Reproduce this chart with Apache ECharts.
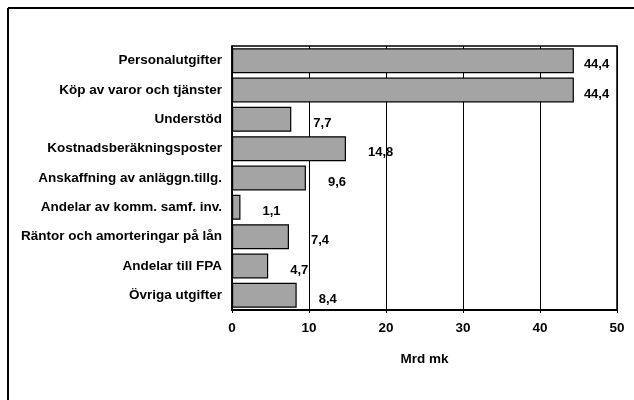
<!DOCTYPE html>
<html>
<head>
<meta charset="utf-8">
<script src="https://cdn.jsdelivr.net/npm/echarts@6/dist/echarts.min.js"></script>
<style>
html,body{margin:0;padding:0;background:#fff;}
#chart{width:634px;height:400px;}
</style>
</head>
<body>
<div id="chart"></div>
<script>
var categories = [
  "Personalutgifter",
  "Köp av varor och tjänster",
  "Understöd",
  "Kostnadsberäkningsposter",
  "Anskaffning av anläggn.tillg.",
  "Andelar av komm. samf. inv.",
  "Räntor och amorteringar på lån",
  "Andelar till FPA",
  "Övriga utgifter"
];
var values = [44.4, 44.4, 7.7, 14.8, 9.6, 1.1, 7.4, 4.7, 8.4];
var xTicks = [0, 10, 20, 30, 40, 50];
var xAxisTitle = "Mrd mk";

var FONT = '"Liberation Sans", Arial, sans-serif';

var chart = echarts.init(document.getElementById('chart'), null, {renderer: 'canvas'});
var barData = values.map(function (v) {
  return {value: v, label: {distance: v > 40 ? 10 : 22}};
});
chart.setOption({
  animation: false,
  backgroundColor: '#ffffff',
  graphic: [
    {type: 'line', shape: {x1: 8, y1: 8, x2: 634, y2: 8}, style: {stroke: '#000', lineWidth: 2}},
    {type: 'line', shape: {x1: 8, y1: 8, x2: 8, y2: 400}, style: {stroke: '#000', lineWidth: 2}}
  ],
  grid: {
    left: 232, right: 17, top: 46, bottom: 90,
    containLabel: false,
    outerBoundsMode: 'none',
    show: true, borderColor: '#000', borderWidth: 1.5, backgroundColor: 'transparent'
  },
  xAxis: {
    type: 'value',
    min: xTicks[0],
    max: xTicks[xTicks.length - 1],
    interval: 10,
    name: xAxisTitle,
    nameLocation: 'middle',
    nameGap: 42,
    nameTextStyle: {fontFamily: FONT, fontWeight: 'bold', fontSize: 13.5, color: '#000'},
    axisLine: {show: true, lineStyle: {color: '#000', width: 2}},
    axisTick: {show: true, length: 3, lineStyle: {color: '#000'}},
    axisLabel: {fontFamily: FONT, fontWeight: 'bold', fontSize: 13.5, color: '#000', margin: 11},
    splitLine: {show: true, lineStyle: {color: '#000', width: 1}}
  },
  yAxis: {
    type: 'category',
    data: categories,
    inverse: true,
    axisLine: {show: true, lineStyle: {color: '#000', width: 1.5}},
    axisTick: {show: false},
    axisLabel: {fontFamily: FONT, fontWeight: 'bold', fontSize: 13.5, color: '#000', margin: 10},
    splitLine: {show: false}
  },
  series: [{
    type: 'bar',
    data: barData,
    barCategoryGap: '15%',
    itemStyle: {color: '#a4a4a4', borderColor: '#000', borderWidth: 1.2},
    label: {
      show: true,
      position: 'right',
      offset: [0, 4],
      fontFamily: FONT,
      fontWeight: 'bold',
      fontSize: 13,
      color: '#000',
      formatter: function (p) { return String(p.value).replace('.', ','); }
    }
  }]
});
</script>
</body>
</html>
